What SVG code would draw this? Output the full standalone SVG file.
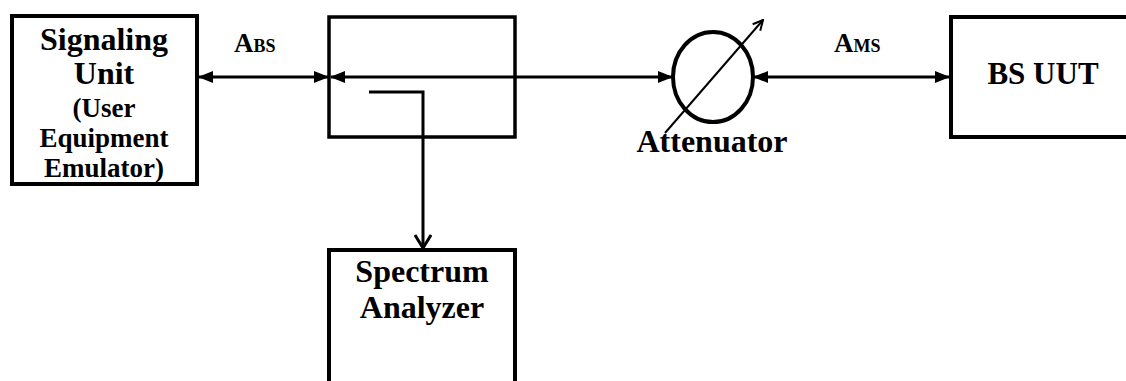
<svg xmlns="http://www.w3.org/2000/svg" width="1126" height="381" viewBox="0 0 1126 381">
<style>
.box{fill:none;stroke:#000;stroke-width:4}
.ln{fill:none;stroke:#000;stroke-width:3}
.thin{fill:none;stroke:#000;stroke-width:2}
text{font-family:"Liberation Serif","Times New Roman",serif;font-weight:bold;fill:#000;text-anchor:middle}
.big{font-size:32px}
.mid{font-size:27px}
.lab{font-size:27px;text-anchor:start}
.sub{font-size:18px}
</style>
<defs>
<marker id="fa" viewBox="0 0 15 12" refX="14" refY="6" markerWidth="15" markerHeight="12" markerUnits="userSpaceOnUse" orient="auto-start-reverse">
<path d="M0,0 L15,6 L0,12 Z" fill="#000"/>
</marker>
<marker id="oa" viewBox="0 0 16 18" refX="14" refY="9" markerWidth="16" markerHeight="18" markerUnits="userSpaceOnUse" orient="auto">
<path d="M1,1 L14,9 L1,17" fill="none" stroke="#000" stroke-width="3"/>
</marker>
<marker id="ta" viewBox="0 0 12 12" refX="11" refY="6" markerWidth="12" markerHeight="12" markerUnits="userSpaceOnUse" orient="auto">
<path d="M1,1 L11,6 L1,11" fill="none" stroke="#000" stroke-width="2"/>
</marker>
</defs>
<g id="signaling-unit">
<rect class="box" x="12" y="16" width="185" height="168"/>
<text class="big" x="104" y="50">Signaling</text>
<text class="big" x="104" y="84">Unit</text>
<text class="mid" x="104" y="117">(User</text>
<text class="mid" x="104" y="147">Equipment</text>
<text class="mid" x="104" y="177">Emulator)</text>
</g>
<g id="coupler">
<rect class="box" x="329" y="17" width="186" height="120" style="stroke-width:3.5"/>
</g>
<g id="attenuator">
<ellipse class="box" cx="713" cy="77" rx="40" ry="45"/>
<line class="thin" x1="665" y1="133" x2="763" y2="20" marker-end="url(#ta)"/>
<text class="big" x="712" y="152">Attenuator</text>
</g>
<g id="bs-uut">
<rect class="box" x="951" y="17" width="200" height="120"/>
<text x="1043" y="84" style="font-size:31px">BS UUT</text>
</g>
<g id="spectrum-analyzer">
<rect class="box" x="329" y="250" width="186" height="160"/>
<text class="big" x="422" y="282">Spectrum</text>
<text class="big" x="422" y="318">Analyzer</text>
</g>
<g id="connectors">
<line class="ln" x1="199" y1="77" x2="328" y2="77" marker-start="url(#fa)" marker-end="url(#fa)"/>
<line class="ln" x1="331" y1="77" x2="672" y2="77" marker-start="url(#fa)" marker-end="url(#fa)"/>
<line class="ln" x1="754" y1="77" x2="949" y2="77" marker-start="url(#fa)" marker-end="url(#fa)"/>
<polyline class="ln" points="369,92 423,92 423,248" marker-end="url(#oa)"/>
<text class="lab" x="234" y="52">A<tspan class="sub">BS</tspan></text>
<text class="lab" x="834" y="52">A<tspan class="sub">MS</tspan></text>
</g>
</svg>
